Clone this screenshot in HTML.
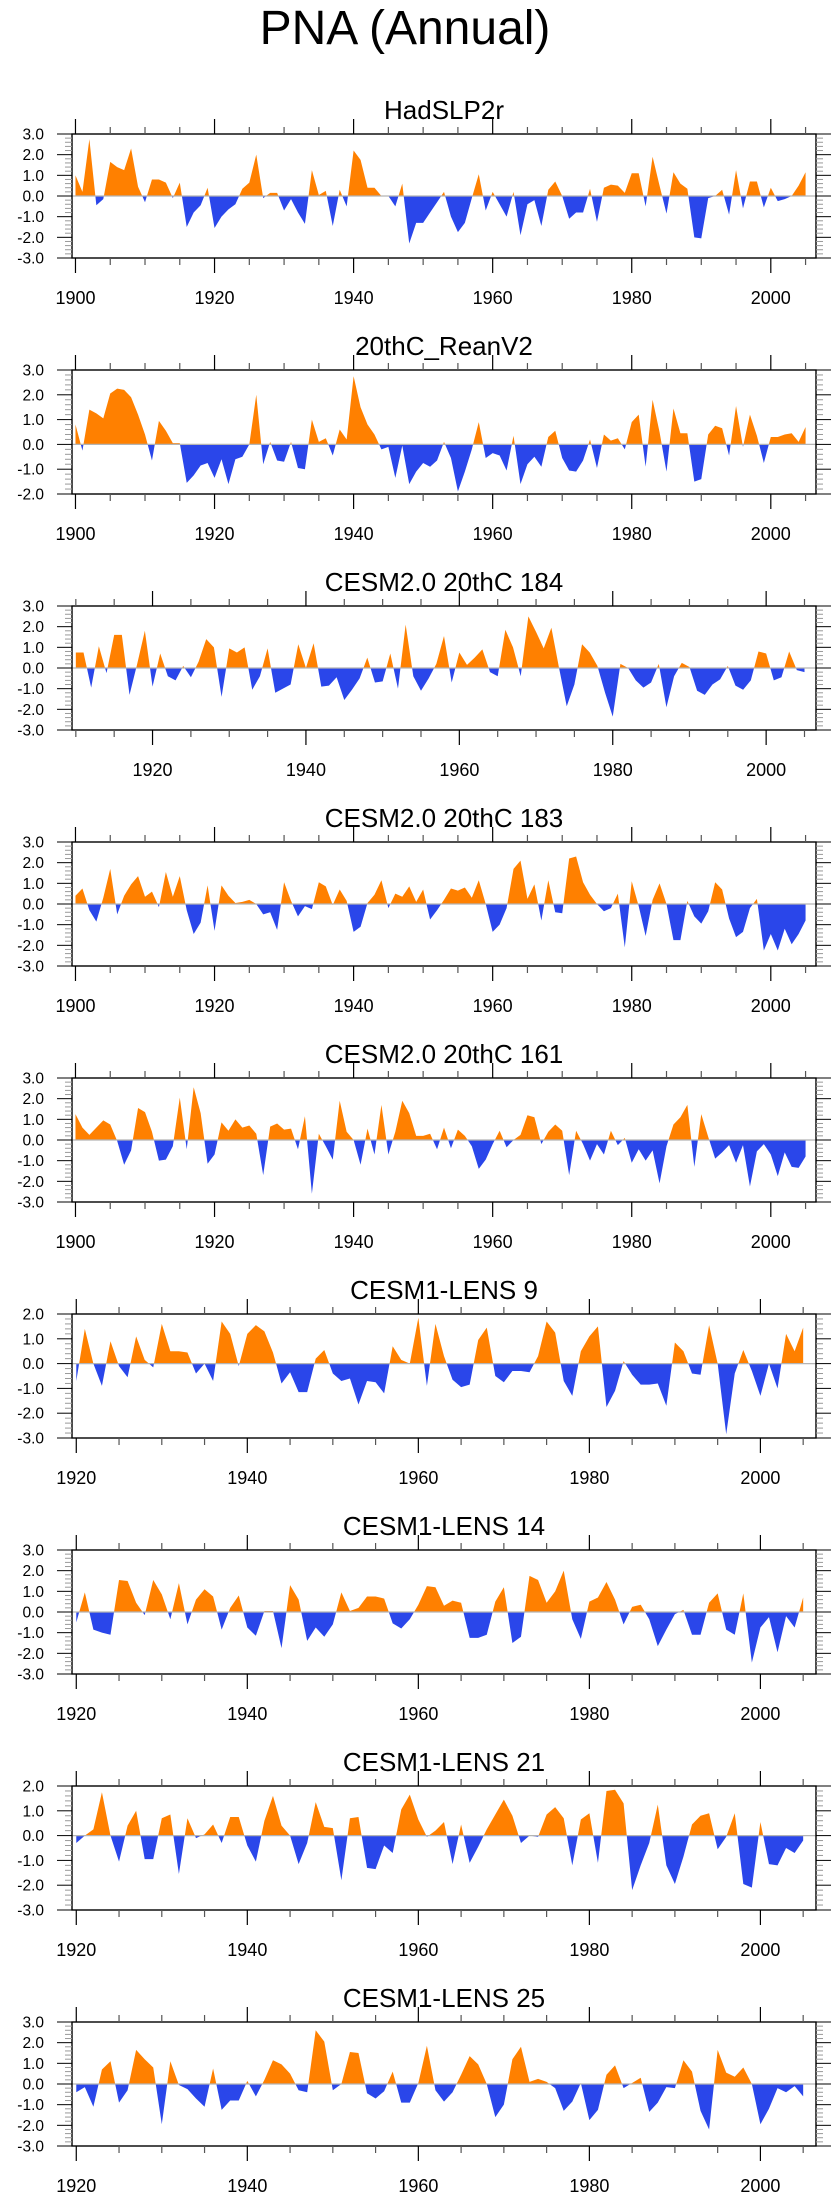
<!DOCTYPE html>
<html><head><meta charset="utf-8">
<style>
html,body{margin:0;padding:0;background:#fff;}
svg{display:block;font-family:"Liberation Sans",Arial,sans-serif;}
</style></head>
<body>
<svg id="fig" width="840" height="2200" viewBox="0 0 840 2200" xmlns="http://www.w3.org/2000/svg">
<text x="405" y="44" font-size="48" text-anchor="middle" fill="#000">PNA (Annual)</text>
</svg>
<script>
const panelTitles = ["HadSLP2r","20thC_ReanV2","CESM2.0 20thC 184","CESM2.0 20thC 183","CESM2.0 20thC 161","CESM1-LENS 9","CESM1-LENS 14","CESM1-LENS 21","CESM1-LENS 25"];
const startYears = [1900,1900,1910,1900,1900,1920,1920,1920,1920];
const yMins = [-3,-2,-3,-3,-3,-3,-3,-3,-3];
const yMaxs = [3,3,3,3,3,2,3,2,3];

const hadslp2r = [1.0,0.2,2.75,-0.45,-0.15,1.65,1.4,1.25,2.3,0.45,-0.3,0.8,0.8,0.65,-0.1,0.65,-1.5,-0.8,-0.45,0.4,
-1.55,-1.0,-0.65,-0.4,0.35,0.65,2.0,-0.1,0.15,0.15,-0.7,-0.15,-0.8,-1.35,1.25,0.05,0.25,-1.45,0.3,-0.5,
2.2,1.75,0.4,0.4,0.0,0.0,-0.5,0.6,-2.3,-1.3,-1.3,-0.8,-0.3,0.2,-1.0,-1.75,-1.3,-0.1,1.05,-0.7,
0.2,-0.4,-1.0,0.2,-1.9,-0.4,-0.2,-1.45,0.3,0.7,0.0,-1.1,-0.8,-0.8,0.35,-1.25,0.4,0.55,0.5,0.15,
1.1,1.1,-0.5,1.9,0.5,-0.85,1.15,0.6,0.35,-2.0,-2.05,-0.1,0.0,0.3,-0.9,1.25,-0.6,0.7,0.7,-0.55,
0.4,-0.25,-0.15,0.0,0.5,1.15];
const reanV2 = [0.8,-0.25,1.4,1.25,1.05,2.05,2.25,2.2,1.9,1.2,0.4,-0.65,0.95,0.55,0.05,0.05,-1.55,-1.25,-0.85,-0.75,
-1.35,-0.6,-1.6,-0.6,-0.5,0.0,2.0,-0.8,0.1,-0.65,-0.7,0.1,-0.95,-1.0,1.0,0.1,0.25,-0.45,0.6,0.2,
2.75,1.5,0.8,0.4,-0.2,-0.1,-1.35,-0.05,-1.6,-1.1,-0.75,-0.9,-0.65,0.1,-0.55,-1.9,-1.1,-0.2,0.9,-0.55,
-0.35,-0.45,-1.05,0.35,-1.6,-0.8,-0.5,-0.9,0.3,0.55,-0.55,-1.05,-1.1,-0.65,0.2,-0.95,0.4,0.15,0.25,-0.2,
0.9,1.2,-0.9,1.8,0.5,-1.1,1.45,0.45,0.45,-1.5,-1.4,0.4,0.75,0.65,-0.45,1.55,-0.1,1.2,0.35,-0.75,
0.3,0.3,0.4,0.45,0.1,0.7];
const cesm2_184 = [0.75,0.75,-0.95,1.05,-0.25,1.6,1.6,-1.3,0.2,1.8,
-0.9,0.7,-0.4,-0.6,0.1,-0.45,0.3,1.4,1.0,-1.4,0.95,0.75,1.0,-1.05,-0.4,0.95,-1.2,-1.0,-0.8,1.15,
0.0,1.2,-0.9,-0.85,-0.45,-1.55,-1.05,-0.5,0.5,-0.7,-0.65,0.7,-1.0,2.1,-0.4,-1.1,-0.5,0.2,1.55,-0.7,
0.75,0.15,0.5,0.9,-0.2,-0.4,1.85,1.0,-0.4,2.5,1.75,0.95,1.95,0.0,-1.85,-0.8,1.15,0.75,0.1,-1.2,
-2.35,0.2,0.0,-0.6,-0.95,-0.7,0.2,-1.9,-0.4,0.25,0.05,-1.1,-1.3,-0.8,-0.55,0.1,-0.85,-1.05,-0.6,0.8,
0.7,-0.6,-0.45,0.8,-0.1,-0.2];
const cesm2_183 = [0.4,0.75,-0.3,-0.85,0.3,1.7,-0.5,0.4,0.95,1.35,0.35,0.6,-0.15,1.55,0.35,1.35,-0.3,-1.45,-0.9,0.9,
-1.3,0.9,0.4,0.05,0.1,0.2,0.0,-0.5,-0.4,-1.25,1.05,0.15,-0.6,-0.1,-0.25,1.05,0.85,-0.05,0.7,0.15,
-1.35,-1.1,0.05,0.45,1.15,-0.2,0.5,0.35,0.85,0.1,0.7,-0.75,-0.3,0.2,0.75,0.65,0.8,0.3,1.15,0.0,
-1.35,-1.0,-0.2,1.7,2.1,0.25,0.95,-0.8,1.15,-0.4,-0.45,2.2,2.3,1.05,0.45,0.0,-0.35,-0.2,0.5,-2.1,
1.1,-0.1,-1.55,0.2,1.0,0.0,-1.75,-1.75,0.15,-0.6,-0.95,-0.35,1.05,0.7,-0.7,-1.6,-1.35,-0.2,0.25,-2.25,
-1.45,-2.25,-1.2,-1.95,-1.45,-0.8];
const cesm2_161 = [1.25,0.6,0.25,0.6,0.95,0.75,-0.05,-1.2,-0.5,1.55,1.35,0.4,-1.0,-0.95,-0.3,2.05,-0.45,2.55,1.3,-1.15,
-0.7,0.85,0.45,1.0,0.6,0.7,0.3,-1.7,0.65,0.8,0.5,0.55,-0.45,1.15,-2.6,0.3,-0.3,-0.95,1.9,0.4,
0.0,-1.2,0.55,-0.7,1.7,-0.7,0.4,1.9,1.3,0.2,0.2,0.3,-0.45,0.6,-0.4,0.5,0.2,-0.3,-1.4,-0.95,
-0.2,0.45,-0.35,0.0,0.25,1.2,1.1,-0.2,0.4,0.75,0.45,-1.7,0.45,-0.2,-1.0,-0.2,-0.7,0.45,-0.25,0.1,
-1.1,-0.45,-1.0,-0.5,-2.1,-0.3,0.75,1.1,1.7,-1.3,1.25,0.15,-0.9,-0.6,-0.25,-1.1,-0.25,-2.25,-0.55,-0.2,
-0.7,-1.75,-0.6,-1.3,-1.35,-0.8];
const lens9 = [-0.7,1.4,0.0,-0.9,0.9,-0.1,-0.55,1.1,0.15,-0.15,1.6,0.5,0.5,0.45,-0.4,0.0,-0.7,1.7,1.2,-0.1,
1.2,1.55,1.3,0.45,-0.8,-0.35,-1.15,-1.15,0.2,0.55,-0.4,-0.7,-0.6,-1.65,-0.7,-0.75,-1.2,0.7,0.15,0.0,
1.85,-0.9,1.6,0.3,-0.65,-0.95,-0.85,0.95,1.45,-0.5,-0.75,-0.3,-0.3,-0.35,0.3,1.7,1.25,-0.7,-1.3,0.5,
1.1,1.5,-1.75,-1.1,0.1,-0.45,-0.85,-0.85,-0.8,-1.7,0.85,0.5,-0.4,-0.45,1.55,0.0,-2.85,-0.4,0.55,-0.3,
-1.3,0.0,-1.0,1.2,0.5,1.45];
const lens14 = [-0.5,0.95,-0.85,-1.0,-1.1,1.55,1.5,0.45,-0.15,1.55,0.85,-0.35,1.4,-0.6,0.6,1.1,0.75,-0.85,0.2,0.8,
-0.75,-1.15,0.05,0.05,-1.75,1.3,0.6,-1.4,-0.75,-1.2,-0.6,0.95,0.05,0.2,0.75,0.75,0.65,-0.55,-0.8,-0.35,
0.35,1.25,1.2,0.3,0.55,0.45,-1.25,-1.25,-1.1,0.5,1.2,-1.5,-1.2,1.75,1.55,0.45,1.0,2.0,-0.35,-1.3,
0.5,0.7,1.45,0.6,-0.6,0.25,0.35,-0.35,-1.65,-0.85,-0.1,0.1,-1.1,-1.1,0.45,0.9,-0.85,-1.1,0.9,-2.45,
-0.75,-0.25,-1.95,-0.2,-0.75,0.7];
const lens21 = [-0.3,0.0,0.25,1.75,0.0,-1.05,0.4,1.0,-0.95,-0.95,0.7,0.85,-1.55,0.7,-0.1,0.05,0.45,-0.3,0.75,0.75,
-0.4,-1.05,0.6,1.6,0.4,0.0,-1.15,-0.3,1.35,0.35,0.3,-1.8,0.7,0.75,-1.3,-1.35,-0.4,-0.7,1.05,1.65,
0.65,-0.05,0.2,0.55,-1.15,0.45,-1.1,-0.45,0.25,0.85,1.45,0.8,-0.3,0.0,-0.05,0.85,1.15,0.7,-1.2,0.65,
0.9,-1.1,1.8,1.85,1.3,-2.2,-1.2,-0.3,1.25,-1.2,-1.95,-0.85,0.45,0.8,0.9,-0.55,-0.05,0.9,-1.95,-2.1,
0.55,-1.15,-1.2,-0.5,-0.7,-0.2];
const lens25 = [-0.4,-0.15,-1.1,0.7,1.1,-0.9,-0.3,1.65,1.2,0.8,-1.95,1.1,-0.05,-0.25,-0.7,-1.1,0.75,-1.25,-0.8,-0.8,
0.15,-0.6,0.2,1.15,0.95,0.5,-0.3,-0.4,2.6,2.05,-0.3,0.0,1.55,1.5,-0.45,-0.7,-0.35,0.6,-0.9,-0.9,
0.05,1.85,-0.3,-0.85,-0.4,0.45,1.35,0.95,0.0,-1.6,-1.0,1.2,1.8,0.1,0.25,0.1,-0.2,-1.3,-0.85,0.05,
-1.75,-1.25,0.45,0.9,-0.2,0.05,0.3,-1.35,-0.9,-0.15,-0.2,1.15,0.6,-1.3,-2.2,1.65,0.55,0.35,0.8,0.0,
-1.95,-1.2,-0.2,-0.4,-0.1,-0.6];

const seriesValues = [hadslp2r,reanV2,cesm2_184,cesm2_183,cesm2_161,lens9,lens14,lens21,lens25];

const NS = "http://www.w3.org/2000/svg";
const svg = document.getElementById("fig");
const BOX_L = 72, BOX_R = 816, BOX_H = 124, TOP0 = 134, STEP = 236;
const ORANGE = "#ff8000", BLUE = "#2a46ea";

function mk(tag, attrs, parent) {
  const e = document.createElementNS(NS, tag);
  for (const k in attrs) e.setAttribute(k, attrs[k]);
  (parent || svg).appendChild(e);
  return e;
}

seriesValues.forEach((vals, p) => {
  const top = TOP0 + STEP * p;
  const bot = top + BOX_H;
  const start = startYears[p];
  const xmin = start - 0.5, xmax = 2006.5;
  const ymin = yMins[p], ymax = yMaxs[p];
  const xs = yr => BOX_L + (yr - xmin) / (xmax - xmin) * (BOX_R - BOX_L);
  const ys = v => bot - (v - ymin) / (ymax - ymin) * BOX_H;
  const y0 = ys(0);

  const g = mk("g", {});
  
  

  const t = mk("text", {x: (BOX_L + BOX_R) / 2, y: top - 15, "font-size": 26, "text-anchor": "middle", fill: "#000"}, g);
  t.textContent = panelTitles[p];
  
  

  // area polygon
  let d = "M" + xs(start).toFixed(2) + "," + y0.toFixed(2);
  vals.forEach((v, i) => { d += " L" + xs(start + i).toFixed(2) + "," + ys(v).toFixed(2); });
  d += " L" + xs(start + vals.length - 1).toFixed(2) + "," + y0.toFixed(2) + " Z";

  const cpA = mk("clipPath", {id: "ca" + p}, g);
  mk("rect", {x: BOX_L, y: top, width: BOX_R - BOX_L, height: y0 - top}, cpA);
  const cpB = mk("clipPath", {id: "cb" + p}, g);
  mk("rect", {x: BOX_L, y: y0, width: BOX_R - BOX_L, height: bot - y0}, cpB);

  const pos = mk("path", {d: d, fill: ORANGE, "clip-path": "url(#ca" + p + ")"}, g);
  
  
  const neg = mk("path", {d: d, fill: BLUE, "clip-path": "url(#cb" + p + ")"}, g);
  
  

  const zl = mk("line", {x1: BOX_L, x2: BOX_R, y1: y0, y2: y0, stroke: "#b4b4b4", "stroke-width": 1.3}, g);
  
  

  // box
  const box = mk("rect", {x: BOX_L, y: top, width: BOX_R - BOX_L, height: BOX_H, fill: "none", stroke: "#000", "stroke-width": 1.4}, g);
  
  

  // x ticks
  const firstTick = Math.ceil(start / 5) * 5;
  for (let yr = firstTick; yr <= 2005; yr += 5) {
    const x = xs(yr);
    const major = yr % 20 === 0;
    const len = major ? 15 : 7;
    const col = major ? "#000" : "#555";
    mk("line", {x1: x, x2: x, y1: bot, y2: bot + len, stroke: col, "stroke-width": 1.2}, g);
    mk("line", {x1: x, x2: x, y1: top, y2: top - len, stroke: col, "stroke-width": 1.2}, g);
    if (major) {
      const lb = mk("text", {x: x, y: bot + 46, "font-size": 18, "text-anchor": "middle", fill: "#000"}, g);
      lb.textContent = String(yr);
      
      
    }
  }
  // y ticks
  for (let k = ymin * 5; k <= ymax * 5; k++) {
    const v = k / 5;
    const y = ys(v);
    const major = k % 5 === 0;
    const len = major ? 15 : 7;
    const col = major ? "#000" : "#999";
    mk("line", {x1: BOX_L, x2: BOX_L - len, y1: y, y2: y, stroke: col, "stroke-width": 1}, g);
    mk("line", {x1: BOX_R, x2: BOX_R + len, y1: y, y2: y, stroke: col, "stroke-width": 1}, g);
    if (major) {
      const lb = mk("text", {x: 44, y: y + 5.5, "font-size": 15.5, "text-anchor": "end", fill: "#000"}, g);
      lb.textContent = v.toFixed(1);
      
      
    }
  }
});
</script>
</body></html>
